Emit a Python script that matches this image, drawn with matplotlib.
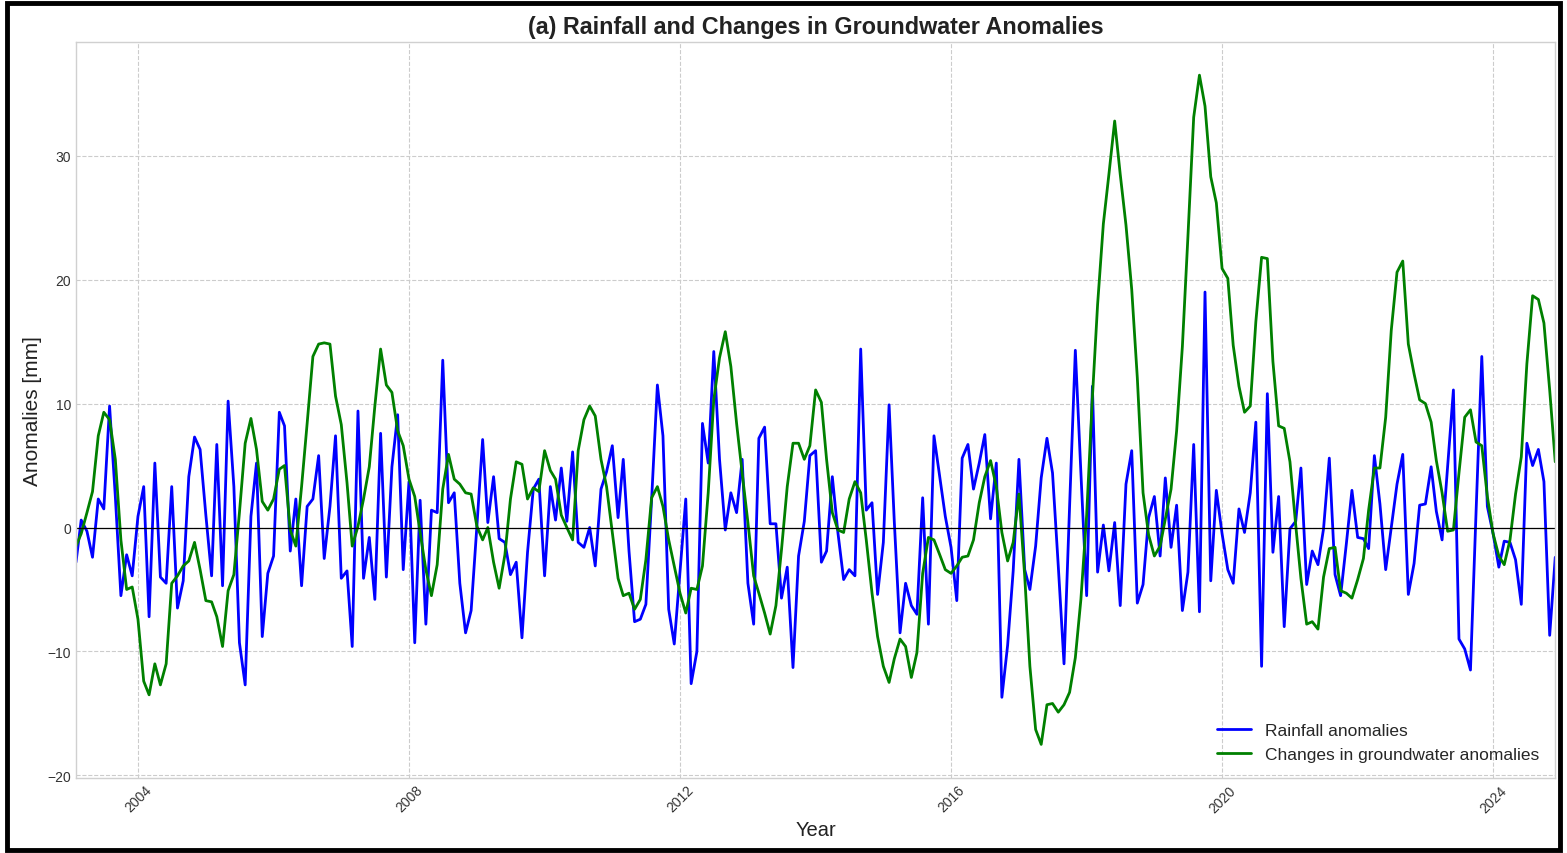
import numpy as np
import pandas as pd
import matplotlib
matplotlib.use('Agg')
import matplotlib.pyplot as plt
import matplotlib.dates as mdates
from matplotlib.patches import Rectangle

plt.style.use('seaborn-v0_8-whitegrid')
plt.rcParams['font.family'] = ['Liberation Sans', 'DejaVu Sans']

# monthly series, Feb 2003 .. Dec 2024
start_month = '2003-02-01'
end_month = '2024-12-01'

rainfall = [
    -2.8, 0.6, -0.3, -2.4, 2.3, 1.5, 9.8, 2.5, -5.5, -2.2, -3.9, 0.9,
    3.3, -7.2, 5.2, -4.0, -4.5, 3.3, -6.5, -4.3, 4.1, 7.3, 6.3, 1.0,
    -3.9, 6.7, -4.7, 10.2, 3.3, -9.3, -12.7, 0.9, 5.2, -8.8, -3.7, -2.3,
    9.3, 8.2, -1.9, 2.3, -4.7, 1.7, 2.3, 5.8, -2.5, 1.7, 7.4, -4.1,
    -3.5, -9.6, 9.4, -4.1, -0.8, -5.8, 7.6, -4.0, 4.9, 9.1, -3.4, 3.7,
    -9.3, 2.2, -7.8, 1.4, 1.2, 13.5, 2.0, 2.8, -4.5, -8.5, -6.7, 0.1,
    7.1, 0.4, 4.1, -0.9, -1.2, -3.8, -2.8, -8.9, -2.0, 3.1, 3.9, -3.9,
    3.3, 0.6, 4.8, 0.5, 6.1, -1.2, -1.6, 0.0, -3.1, 3.1, 4.5, 6.6,
    0.8, 5.5, -1.9, -7.6, -7.4, -6.2, 2.3, 11.5, 7.4, -6.6, -9.4, -3.5,
    2.3, -12.6, -10.0, 8.4, 5.2, 14.2, 5.5, -0.2, 2.8, 1.2, 5.5, -4.5,
    -7.8, 7.2, 8.1, 0.3, 0.3, -5.7, -3.2, -11.3, -2.3, 0.5, 5.8, 6.2,
    -2.8, -1.9, 4.1, -0.4, -4.2, -3.4, -3.9, 14.4, 1.4, 2.0, -5.4, -1.2,
    9.9, 0.5, -8.5, -4.5, -6.3, -7.0, 2.4, -7.8, 7.4, 4.1, 0.9, -1.6,
    -5.9, 5.6, 6.7, 3.1, 5.2, 7.5, 0.7, 5.2, -13.7, -9.5, -3.5, 5.5,
    -3.4, -5.0, -1.5, 4.0, 7.2, 4.4, -3.1, -11.0, 1.7, 14.3, 4.4, -5.5,
    11.4, -3.6, 0.2, -3.5, 0.4, -6.3, 3.5, 6.2, -6.1, -4.6, 0.8, 2.5,
    -2.3, 4.0, -1.6, 1.8, -6.7, -3.6, 6.7, -6.8, 19.0, -4.3, 3.0, -0.5,
    -3.4, -4.5, 1.5, -0.4, 2.8, 8.5, -11.2, 10.8, -2.0, 2.5, -8.0, -0.1,
    0.5, 4.8, -4.6, -1.9, -3.0, -0.1, 5.6, -3.8, -5.5, -1.3, 3.0, -0.8,
    -0.9, -1.7, 5.8, 1.9, -3.4, 0.0, 3.5, 5.9, -5.4, -2.9, 1.8, 1.9,
    4.9, 1.3, -1.0, 5.0, 11.1, -9.0, -9.8, -11.5, 1.2, 13.8, 1.7, -0.5,
    -3.2, -1.1, -1.2, -2.6, -6.2, 6.8, 5.0, 6.3, 3.7, -8.7, -2.4,
]

groundwater = [
    -1.5, -0.5, 1.2, 2.9, 7.4, 9.3, 8.7, 5.5, -1.0, -5.0, -4.8, -7.4,
    -12.4, -13.5, -11.0, -12.7, -11.0, -4.5, -3.9, -3.1, -2.7, -1.2, -3.4, -5.9,
    -6.0, -7.2, -9.6, -5.1, -3.8, 1.2, 6.8, 8.8, 6.3, 2.1, 1.4, 2.3,
    4.7, 5.0, -0.2, -1.5, 3.3, 8.4, 13.8, 14.8, 14.9, 14.8, 10.6, 8.3,
    3.6, -1.5, 0.1, 2.3, 4.9, 9.8, 14.4, 11.5, 10.9, 7.8, 6.6, 3.9,
    2.5, -0.4, -3.4, -5.5, -3.0, 3.1, 5.9, 3.9, 3.5, 2.8, 2.7, 0.1,
    -1.0, 0.0, -2.8, -4.9, -2.2, 2.3, 5.3, 5.1, 2.3, 3.2, 2.9, 6.2,
    4.6, 3.9, 1.0, 0.0, -1.0, 6.2, 8.7, 9.8, 9.0, 5.5, 3.3, -0.4,
    -4.1, -5.5, -5.3, -6.6, -5.8, -2.6, 2.4, 3.3, 1.7, -1.0, -3.1, -5.3,
    -6.9, -4.9, -5.0, -3.1, 2.8, 10.3, 13.7, 15.8, 13.0, 8.4, 4.4, 0.4,
    -3.9, -5.3, -6.9, -8.6, -6.3, -1.8, 3.3, 6.8, 6.8, 5.5, 6.6, 11.1,
    10.1, 5.5, 1.2, -0.2, -0.4, 2.3, 3.7, 2.8, -1.0, -5.3, -8.8, -11.2,
    -12.5, -10.6, -9.0, -9.6, -12.1, -10.1, -3.7, -0.8, -1.0, -2.2, -3.4, -3.7,
    -3.1, -2.4, -2.3, -1.0, 2.0, 4.1, 5.4, 3.3, -0.4, -2.7, -1.2, 2.7,
    -3.9, -11.2, -16.3, -17.5, -14.3, -14.2, -14.9, -14.3, -13.3, -10.5, -5.8, 1.0,
    10.5, 18.0, 24.5, 28.5, 32.8, 28.5, 24.4, 19.2, 12.1, 2.8, -0.6, -2.3,
    -1.5, 0.7, 3.1, 7.8, 14.6, 23.5, 33.1, 36.5, 34.0, 28.3, 26.2, 20.9,
    20.1, 14.7, 11.4, 9.3, 9.8, 16.6, 21.8, 21.7, 13.4, 8.2, 8.0, 5.3,
    0.2, -4.1, -7.8, -7.6, -8.2, -4.0, -1.7, -1.6, -5.1, -5.3, -5.7, -4.2,
    -2.5, 1.4, 4.8, 4.8, 8.9, 15.9, 20.6, 21.5, 14.8, 12.4, 10.3, 10.0,
    8.5, 5.4, 2.8, -0.3, -0.2, 4.4, 8.9, 9.5, 6.9, 6.6, 2.5, -0.5,
    -2.3, -3.0, -1.0, 2.7, 5.7, 13.2, 18.7, 18.4, 16.5, 11.1, 5.3,
]

dates = pd.date_range(start_month, end_month, freq='MS')

fig, ax = plt.subplots(figsize=(15.67, 8.54), dpi=100)
plt.subplots_adjust(left=0.0485, right=0.9925, top=0.95, bottom=0.088)

ax.plot(dates, rainfall, color='blue', lw=2, label='Rainfall anomalies')
ax.plot(dates, groundwater, color='green', lw=2, label='Changes in groundwater anomalies')
ax.axhline(0, color='black', lw=0.9)

ax.set_xlim(dates[0], dates[-1])
ax.xaxis.set_major_locator(mdates.YearLocator(4))
ax.xaxis.set_major_formatter(mdates.DateFormatter('%Y'))
plt.setp(ax.get_xticklabels(), rotation=45)
ax.tick_params(labelsize=10, colors='#333333')

ax.grid(True, linestyle='--', color='#cccccc', lw=0.8)
for s in ax.spines.values():
    s.set_visible(True)
    s.set_color('#d0d0d0')
    s.set_linewidth(1)

ax.set_title('(a) Rainfall and Changes in Groundwater Anomalies', fontsize=16.8,
             fontweight='bold', color='#222222', pad=6)
ax.set_xlabel('Year', fontsize=14.5, color='#222222')
ax.set_ylabel('Anomalies [mm]', fontsize=15, color='#222222')
ax.legend(loc='lower right', fontsize=12.5, frameon=False)

fig.patches.append(Rectangle((0.0045, 0.004), 0.991, 0.991, transform=fig.transFigure,
                             fill=False, ec='black', lw=3.5))

plt.savefig('out.png', dpi=100)
